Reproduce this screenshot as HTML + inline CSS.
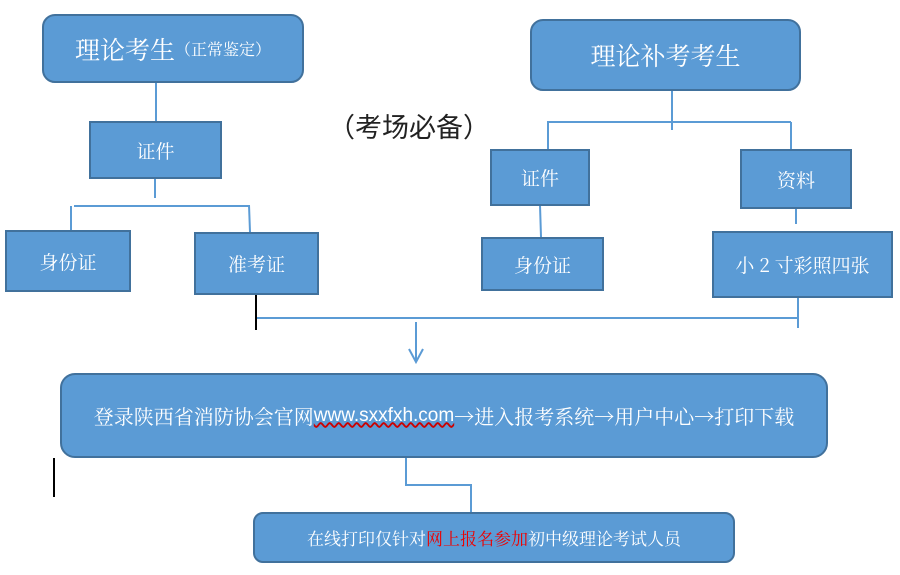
<!DOCTYPE html>
<html><head><meta charset="utf-8"><style>
body{margin:0;width:900px;height:575px;background:#fff;position:relative;overflow:hidden;font-family:"Liberation Sans","Noto Sans CJK SC",sans-serif}
.b{position:absolute;box-sizing:border-box;background:#5b9bd5;border:2px solid #41719c;color:#fff;display:flex;align-items:center;justify-content:center;font-family:"Noto Serif CJK SC","Noto Sans CJK SC",serif;font-size:19px;white-space:nowrap}
svg{position:absolute;left:0;top:0}
</style></head><body>
<svg width="900" height="575">
<g stroke="#5b9bd5" stroke-width="2" fill="none">
<path d="M156 82V121M155 178V198M74 206H249M71 206V230M249 205L250 232"/>
<path d="M672 90V130M547 122H791M548 122V149M791 122V149M540 205L541 237M796 208V224M798 297V328M256 318H797"/>
<path d="M416 322V362M409 349L416 362L423 349"/>
<path d="M406 457V485H471V512"/>
</g>
<g stroke="#000" stroke-width="2"><path d="M256 283V330M54 458V497"/></g>
</svg>
<div class="b" style="left:42px;top:14px;width:262px;height:69px;border-radius:13px"><span style="font-size:25px">理论考生</span><span style="font-size:16px">（正常鉴定）</span></div>
<div class="b" style="left:89px;top:121px;width:133px;height:58px">证件</div>
<div class="b" style="left:5px;top:230px;width:126px;height:62px">身份证</div>
<div class="b" style="left:194px;top:232px;width:125px;height:63px">准考证</div>
<div class="b" style="left:530px;top:19px;width:271px;height:72px;border-radius:13px;font-size:25px">理论补考考生</div>
<div class="b" style="left:490px;top:149px;width:100px;height:57px">证件</div>
<div class="b" style="left:740px;top:149px;width:112px;height:60px">资料</div>
<div class="b" style="left:481px;top:237px;width:123px;height:54px">身份证</div>
<div class="b" style="left:712px;top:231px;width:181px;height:67px">小 2 寸彩照四张</div>
<div class="b" style="left:60px;top:373px;width:768px;height:85px;border-radius:15px;font-size:20px">登录陕西省消防协会官网 <span style="font-family:'Liberation Sans',sans-serif;font-size:19px;text-decoration:underline wavy #c00;text-decoration-skip-ink:none">www.sxxfxh.com</span>→进入报考系统→用户中心→打印下载</div>
<div class="b" style="left:253px;top:512px;width:482px;height:51px;border-radius:10px;font-size:17px">在线打印仅针对<span style="color:#e00">网上报名参加</span>初中级理论考试人员</div>
<div style="position:absolute;left:328px;top:106px;font-size:27px;color:#222;font-family:'Noto Sans CJK SC',sans-serif">（考场必备）</div>
</body></html>
